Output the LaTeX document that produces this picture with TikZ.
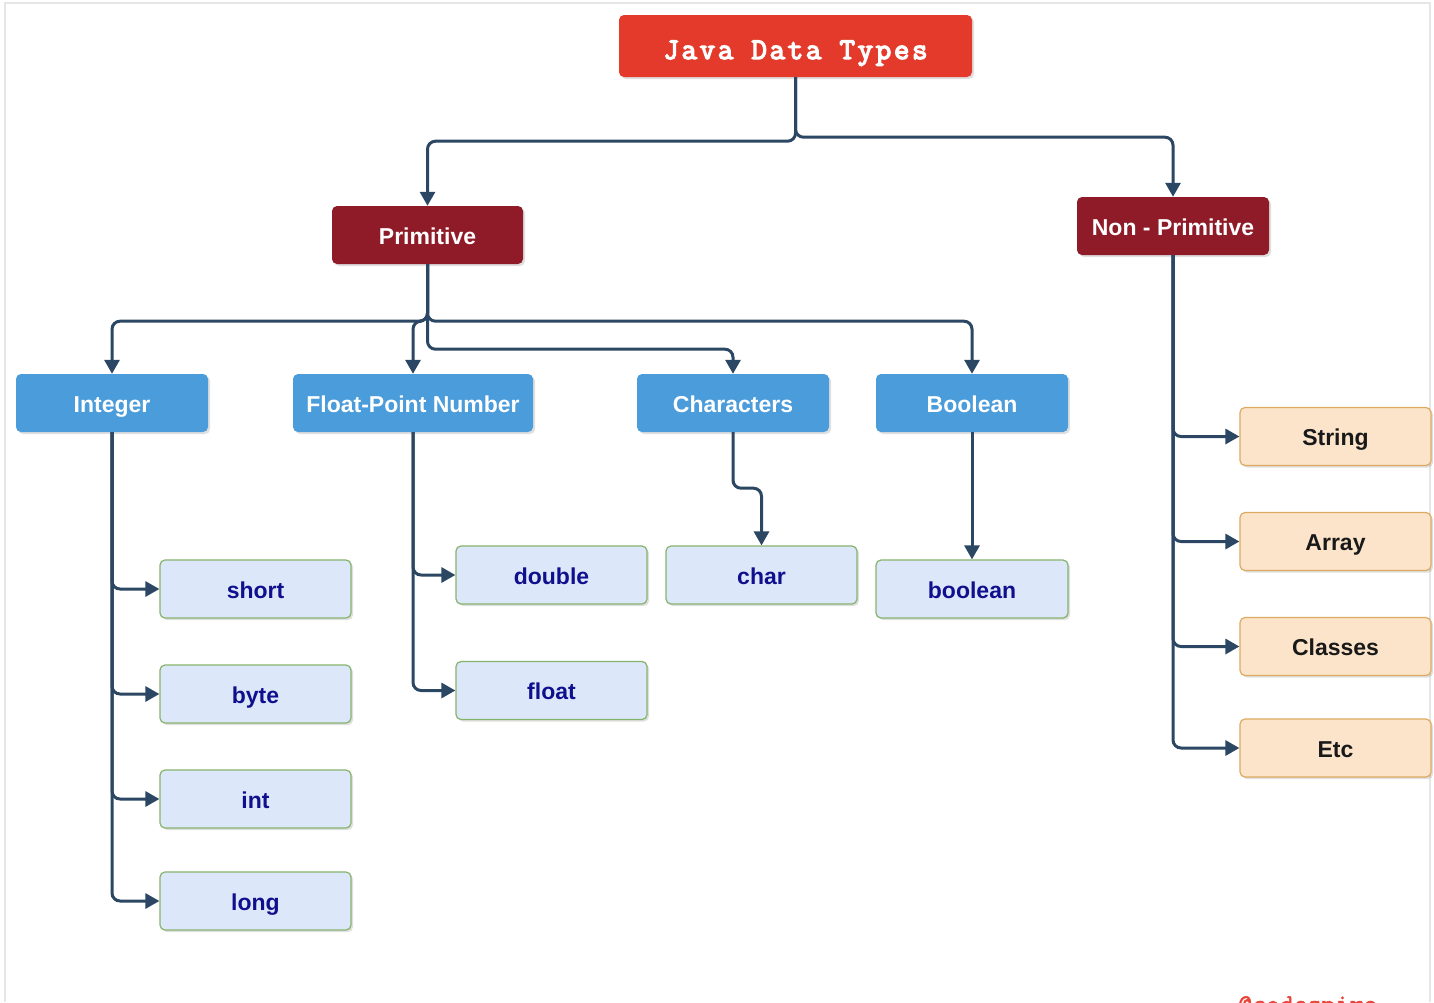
\documentclass[tikz,border=0pt]{standalone}
\usepackage{fontspec}
\setmainfont{Liberation Sans}
\newfontfamily\javafont{Latin Modern Mono}[FakeBold=4.5, LetterSpace=9]
\newfontfamily\wmfont{Latin Modern Mono}[FakeBold=2]
\usetikzlibrary{arrows.meta,shadows}
\definecolor{javared}{HTML}{E33A2B}
\definecolor{darkred}{HTML}{8E1B27}
\definecolor{catblue}{HTML}{4A9CDB}
\definecolor{leaffill}{HTML}{DCE8FA}
\definecolor{leafline}{HTML}{86B36C}
\definecolor{leaftext}{HTML}{10108E}
\definecolor{npfill}{HTML}{FBE4CA}
\definecolor{npline}{HTML}{DDAA62}
\definecolor{conncol}{HTML}{2B4763}
\definecolor{framecol}{HTML}{E6E6E6}
\definecolor{wmcol}{HTML}{E8463A}
\tikzset{
  basebox/.style={rounded corners=5pt, inner sep=0pt, minimum height=58pt,
    text height=18pt, text depth=0pt,
    drop shadow={opacity=0.25, shadow xshift=2pt, shadow yshift=-2pt}},
  titlebox/.style={basebox, fill=javared, text=white, minimum width=353pt, minimum height=62pt,
    text height=26pt, text depth=0pt,
    font=\javafont\fontsize{30}{34}\selectfont},
  groupbox/.style={basebox, fill=darkred, text=white, minimum width=192pt,
    font=\bfseries\fontsize{23}{27}\selectfont},
  catbox/.style={basebox, fill=catblue, text=white, minimum width=192pt,
    font=\bfseries\fontsize{23}{27}\selectfont},
  leafbox/.style={basebox, fill=leaffill, draw=leafline, line width=1.2pt, text=leaftext, minimum width=191pt,
    font=\bfseries\fontsize{23}{27}\selectfont},
  npbox/.style={basebox, fill=npfill, draw=npline, line width=1.2pt, text=black!90, minimum width=191pt,
    font=\bfseries\fontsize{23}{27}\selectfont},
  conn/.style={draw=conncol, line width=3pt, rounded corners=8pt,
    -{Triangle[length=14pt,width=15pt]}},
}
\begin{document}
\begin{tikzpicture}[x=1pt,y=-1pt]
\useasboundingbox (0,0) rectangle (1434,1002);
\fill[white] (0,0) rectangle (1434,1002);
\draw[framecol, line width=2pt] (5,1002) -- (5,3) -- (1430,3) -- (1430,1002);

% nodes
\node[titlebox] (java) at (795.5,46) {Java Data Types};
\node[groupbox, minimum width=191pt] (prim) at (427.5,235) {Primitive};
\node[groupbox] (nonprim) at (1173,226) {Non - Primitive};

\node[catbox] (integer) at (112,403) {Integer};
\node[catbox, minimum width=240pt] (floatpt) at (413,403) {Float-Point Number};
\node[catbox] (chars) at (733,403) {Characters};
\node[catbox] (bool) at (972,403) {Boolean};

\node[leafbox] (short) at (255.5,589) {short};
\node[leafbox] (byte) at (255.5,694) {byte};
\node[leafbox] (int) at (255.5,799) {int};
\node[leafbox] (long) at (255.5,901) {long};
\node[leafbox] (double) at (551.5,575) {double};
\node[leafbox] (float) at (551.5,690.5) {float};
\node[leafbox] (char) at (761.5,575) {char};
\node[leafbox, minimum width=192pt] (boolean) at (972,589) {boolean};

\node[npbox] (string) at (1335.5,436.5) {String};
\node[npbox] (array) at (1335.5,541.5) {Array};
\node[npbox] (classes) at (1335.5,646.5) {Classes};
\node[npbox] (etc) at (1335.5,748) {Etc};

% connectors
\draw[conn] (java.south) -- ++(0,64) -| (prim.north);
\draw[conn] (java.south) -- ++(0,60) -| (nonprim.north);

\draw[conn] (prim.south) -- ++(0,57) -| (integer.north);
\draw[conn] (prim.south) -- ++(0,57) -| (floatpt.north);
\draw[conn] (prim.south) -- ++(0,57) -| (bool.north);
\draw[conn] (prim.south) -- ++(0,85) -| (chars.north);

\draw[conn] (chars.south) -- ++(0,56) -| (char.north);
\draw[conn] (bool.south) -- (boolean.north);

\draw[conn] (integer.south) |- (short.west);
\draw[conn] (integer.south) |- (byte.west);
\draw[conn] (integer.south) |- (int.west);
\draw[conn] (integer.south) |- (long.west);

\draw[conn] (floatpt.south) |- (double.west);
\draw[conn] (floatpt.south) |- (float.west);

\draw[conn] (nonprim.south) |- (string.west);
\draw[conn] (nonprim.south) |- (array.west);
\draw[conn] (nonprim.south) |- (classes.west);
\draw[conn] (nonprim.south) |- (etc.west);

% watermark (cut off at the bottom edge, as in the reference)
\begin{scope}
\clip (0,0) rectangle (1434,1002);
\node[anchor=north west, inner sep=0pt, text=wmcol, font=\wmfont\fontsize{27}{30}\selectfont] (wm) at (1238,996) {@codespire};
\end{scope}
\end{tikzpicture}
\end{document}
